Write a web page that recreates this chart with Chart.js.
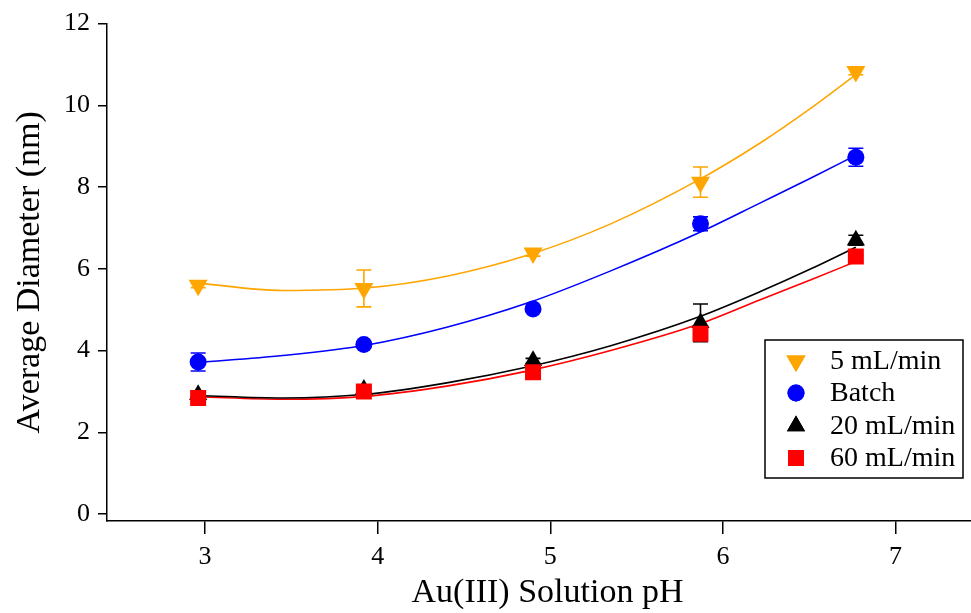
<!DOCTYPE html>
<html>
<head>
<meta charset="utf-8">
<script src="https://cdn.jsdelivr.net/npm/chart.js@4.4.1/dist/chart.umd.min.js"></script>
<style>
  html, body { margin: 0; padding: 0; background: #fff; }
  #wrap { width: 971px; height: 613px; position: relative; }
</style>
</head>
<body>
<div id="wrap"><canvas id="c"></canvas></div>
<script>
// Measured particle sizes vs. Au(III) solution pH
const pH = [2.96, 3.92, 4.90, 5.87, 6.77];
const seriesNames = ['5 mL/min', 'Batch', '20 mL/min', '60 mL/min'];

const flow5    = [5.60, 5.52, 6.39, 8.12, 10.83];
const flow5Err = [0.06, 0.45, 0.08, 0.37, 0.08];
const batch    = [3.72, 4.15, 5.02, 7.10, 8.73];
const batchErr = [0.22, 0.06, 0.06, 0.17, 0.22];
const flow20    = [2.92, 3.05, 3.75, 4.68, 6.70];
const flow20Err = [0.08, 0.06, 0.06, 0.46, 0.12];
const flow60    = [2.84, 3.00, 3.47, 4.41, 6.30];
const flow60Err = [0.04, 0.04, 0.04, 0.04, 0.04];

// Fitted trend curves, sampled along pH
const fitPH    = [2.96, 3.45, 3.93, 4.40, 4.88, 5.35, 5.87, 6.22, 6.51, 6.77];
const fit5     = [5.65, 5.47, 5.53, 5.82, 6.35, 7.10, 8.20, 9.09, 9.93, 10.75];
const fitBatch = [3.71, 3.88, 4.13, 4.57, 5.18, 5.95, 6.90, 7.62, 8.22, 8.78];
const fit20    = [2.90, 2.84, 2.93, 3.21, 3.61, 4.12, 4.84, 5.45, 6.00, 6.53];
const fit60    = [2.87, 2.81, 2.88, 3.13, 3.51, 4.00, 4.66, 5.25, 5.73, 6.18];

const xTicks = [3, 4, 5, 6, 7];
const yTicks = [0, 2, 4, 6, 8, 10, 12];

const ORANGE = '#FFA500', BLUE = '#0000FF', BLACK = '#000000', RED = '#FF0000';
const SERIF = '"Liberation Serif", "Times New Roman", serif';

const pts = (xs, ys) => xs.map((x, i) => ({ x, y: ys[i] }));

const markerSpec = [
  { color: ORANGE, style: 'triangle', radius: 11,   rotation: 180 },
  { color: BLUE,   style: 'circle',   radius: 8.5,  rotation: 0 },
  { color: BLACK,  style: 'triangle', radius: 10.5, rotation: 0 },
  { color: RED,    style: 'rect',     radius: 11.3, rotation: 0 }
];

function markerSet(i, values, errs, order) {
  const m = markerSpec[i];
  return {
    label: seriesNames[i],
    data: pts(pH, values),
    errors: errs,
    showLine: false,
    pointStyle: m.style,
    pointRotation: m.rotation,
    pointRadius: m.radius,
    pointBackgroundColor: m.color,
    pointBorderColor: m.color,
    pointBorderWidth: 0,
    order: order
  };
}

function fitSet(color, values, order) {
  return {
    label: 'fit',
    data: pts(fitPH, values),
    showLine: true,
    borderColor: color,
    borderWidth: 1.6,
    pointRadius: 0,
    cubicInterpolationMode: 'monotone',
    fill: false,
    order: order
  };
}

// Vertical error bars with caps
const errorBars = {
  id: 'errorBars',
  beforeDatasetsDraw(chart) {
    const ctx = chart.ctx;
    const xs = chart.scales.x, ys = chart.scales.y;
    chart.data.datasets.forEach(ds => {
      if (!ds.errors) return;
      ctx.save();
      ctx.strokeStyle = ds.pointBackgroundColor;
      ctx.lineWidth = 1.6;
      ds.data.forEach((p, i) => {
        const e = ds.errors[i];
        const px = xs.getPixelForValue(p.x);
        const top = ys.getPixelForValue(p.y + e);
        const bot = ys.getPixelForValue(p.y - e);
        ctx.beginPath();
        ctx.moveTo(px, top); ctx.lineTo(px, bot);
        ctx.moveTo(px - 7.5, top); ctx.lineTo(px + 7.5, top);
        ctx.moveTo(px - 7.5, bot); ctx.lineTo(px + 7.5, bot);
        ctx.stroke();
      });
      ctx.restore();
    });
  }
};

// Boxed legend inside the plot area
const boxLegend = {
  id: 'boxLegend',
  afterDraw(chart) {
    const ctx = chart.ctx;
    const bx = 765, by = 340, bw = 198, bh = 138;
    ctx.save();
    ctx.fillStyle = '#fff';
    ctx.fillRect(bx, by, bw, bh);
    ctx.strokeStyle = '#000';
    ctx.lineWidth = 1.5;
    ctx.strokeRect(bx, by, bw, bh);
    ctx.font = '28px ' + SERIF;
    ctx.textBaseline = 'middle';
    const rows = [361, 393, 426, 458];
    markerSpec.forEach((m, i) => {
      ctx.fillStyle = m.color;
      ctx.strokeStyle = m.color;
      Chart.helpers.drawPoint(ctx, {
        pointStyle: m.style, radius: m.radius, rotation: m.rotation, borderWidth: 0
      }, 796, rows[i]);
      ctx.fill();
      ctx.fillStyle = '#000';
      ctx.fillText(seriesNames[i], 830, rows[i] + 1);
    });
    ctx.restore();
  }
};

const axisCommon = {
  type: 'linear',
  grid: { drawOnChartArea: false, color: '#000', lineWidth: 1.5 },
  border: { display: true, color: '#000', width: 1.5 },
  ticks: { color: '#000', font: { family: SERIF, size: 26 } }
};

new Chart(document.getElementById('c'), {
  type: 'scatter',
  data: {
    datasets: [
      markerSet(3, flow60, flow60Err, 1),
      markerSet(2, flow20, flow20Err, 2),
      markerSet(1, batch, batchErr, 3),
      markerSet(0, flow5, flow5Err, 4),
      fitSet(BLACK, fit20, 5),
      fitSet(RED, fit60, 6),
      fitSet(BLUE, fitBatch, 7),
      fitSet(ORANGE, fit5, 8)
    ]
  },
  options: {
    responsive: true,
    maintainAspectRatio: false,
    animation: false,
    layout: { autoPadding: false, padding: { top: 22, right: 0, left: 0, bottom: 0 } },
    plugins: { legend: { display: false }, tooltip: { enabled: false } },
    scales: {
      x: {
        ...axisCommon,
        min: 2.432, max: 7.437,
        grid: { ...axisCommon.grid, tickLength: 13 },
        ticks: { ...axisCommon.ticks, padding: 8 },
        afterBuildTicks: s => { s.ticks = xTicks.map(v => ({ value: v })); },
        afterFit: s => { s.height = 92; s.paddingLeft = 0; s.paddingRight = 0; },
        title: {
          display: true, text: '  Au(III) Solution pH', color: '#000',
          font: { family: SERIF, size: 34 }, padding: { top: 0, bottom: 0 }
        }
      },
      y: {
        ...axisCommon,
        min: -0.17, max: 12,
        grid: { ...axisCommon.grid, tickLength: 9 },
        ticks: { ...axisCommon.ticks, padding: 8 },
        afterBuildTicks: s => { s.ticks = yTicks.map(v => ({ value: v })); },
        afterFit: s => { s.width = 107; },
        title: {
          display: true, text: 'Average Diameter (nm)', color: '#000',
          font: { family: SERIF, size: 34 }, padding: { top: 10, bottom: 0 }
        }
      }
    }
  },
  plugins: [errorBars, boxLegend]
});
</script>
</body>
</html>
